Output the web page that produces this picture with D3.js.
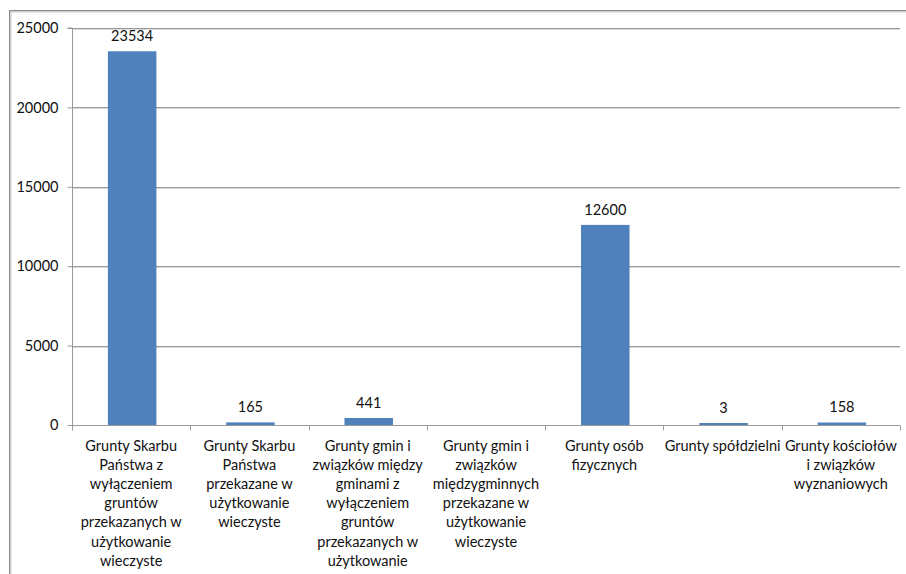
<!DOCTYPE html>
<html><head><meta charset="utf-8">
<script src="https://cdn.jsdelivr.net/npm/d3@7"></script>
<style>
html,body{margin:0;padding:0;background:#fff;}
svg{display:block;}
text{font-family:Lato,"Open Sans","Liberation Sans",sans-serif;fill:#111;}
</style></head>
<body>
<svg id="c" width="906" height="574"></svg>
<script>
const categories = [
  "Grunty Skarbu|Państwa z|wyłączeniem|gruntów|przekazanych w|użytkowanie|wieczyste",
  "Grunty Skarbu|Państwa|przekazane w|użytkowanie|wieczyste",
  "Grunty gmin i|związków między|gminami z|wyłączeniem|gruntów|przekazanych w|użytkowanie",
  "Grunty gmin i|związków|międzygminnych|przekazane w|użytkowanie|wieczyste",
  "Grunty osób|fizycznych",
  "Grunty spółdzielni",
  "Grunty kościołów|i związków|wyznaniowych"
];
const values = [23534, 165, 441, null, 12600, 3, 158];
const yTicks = [0, 5000, 10000, 15000, 20000, 25000];

const svg = d3.select("#c");
// outer frame
svg.append("rect").attr("x",10.5).attr("y",11.5).attr("width",906).attr("height",600)
  .attr("fill","none").attr("stroke","#d0d0d0").attr("stroke-width",2);
svg.append("rect").attr("x",9.5).attr("y",10.5).attr("width",906).attr("height",600)
  .attr("fill","none").attr("stroke","#8a8a8a").attr("stroke-width",1);

const L = 72, R = 900, T = 28, B = 425;
const x = d3.scaleBand().domain(d3.range(categories.length)).range([L, R]).padding(0);
const y = d3.scaleLinear().domain([0, 25000]).range([B, T]);

// gridlines
svg.append("g").selectAll("line").data(yTicks.filter(d => d > 0)).join("line")
  .attr("x1", L).attr("x2", R)
  .attr("y1", d => Math.round(y(d)) + 0.5).attr("y2", d => Math.round(y(d)) + 0.5)
  .attr("stroke", "#9a9a9a").attr("stroke-width", 1);
svg.append("g").selectAll("line").data(yTicks.filter(d => d > 0)).join("line")
  .attr("x1", L).attr("x2", R)
  .attr("y1", d => Math.round(y(d)) + 1.5).attr("y2", d => Math.round(y(d)) + 1.5)
  .attr("stroke", "#dcdcdc").attr("stroke-width", 1);

// y axis
const yAxis = d3.axisLeft(y).tickValues(yTicks).tickSize(5).tickPadding(9).tickFormat(d3.format("d"));
const gy = svg.append("g").attr("transform", `translate(${L + 0.5},0)`).call(yAxis);
gy.select(".domain").attr("stroke", "#9a9a9a").attr("d", `M-5,${T}H0V${B}`);
gy.selectAll(".tick line").attr("stroke", "#9a9a9a");
gy.selectAll(".tick text").style("font-size", "14.5px").attr("fill", "#111")
  .style("font-family", "Lato,'Open Sans',sans-serif");

// x axis
const gx = svg.append("g").attr("transform", `translate(0,${B + 0.5})`);
gx.append("line").attr("x1", L).attr("x2", R).attr("stroke", "#9a9a9a");
gx.selectAll("line.tk").data(d3.range(categories.length + 1)).join("line").attr("class","tk")
  .attr("x1", i => Math.round(L + i * x.step()) + 0.5).attr("x2", i => Math.round(L + i * x.step()) + 0.5)
  .attr("y1", 0).attr("y2", 5).attr("stroke", "#9a9a9a");

// bars
const barW = x.bandwidth() * 0.41;
const data = categories.map((c, i) => ({c, v: values[i], i}));
svg.append("g").selectAll("rect").data(data.filter(d => d.v != null)).join("rect")
  .attr("x", d => x(d.i) + (x.bandwidth() - barW) / 2 + 1)
  .attr("width", barW)
  .attr("y", d => Math.min(y(d.v), B - 2))
  .attr("height", d => B - Math.min(y(d.v), B - 2))
  .attr("fill", "#4f81bd");

// value labels
svg.append("g").selectAll("text").data(data.filter(d => d.v != null)).join("text")
  .attr("x", d => x(d.i) + x.bandwidth() / 2 + 1)
  .attr("y", d => Math.min(y(d.v), B - 2) - 10)
  .attr("text-anchor", "middle").style("font-size", "14.5px")
  .text(d => d.v);

// category labels
const lab = svg.append("g").selectAll("text").data(data).join("text")
  .attr("text-anchor", "middle").style("font-size", "14.5px")
  .attr("x", d => x(d.i) + x.bandwidth() / 2)
  .attr("y", 451);
lab.selectAll("tspan").data(d => d.c.split("|").map(s => ({s, cx: x(d.i) + x.bandwidth() / 2}))).join("tspan")
  .attr("x", t => t.cx).attr("dy", (t, j) => j === 0 ? 0 : 19.1).text(t => t.s);
</script>
</body></html>
